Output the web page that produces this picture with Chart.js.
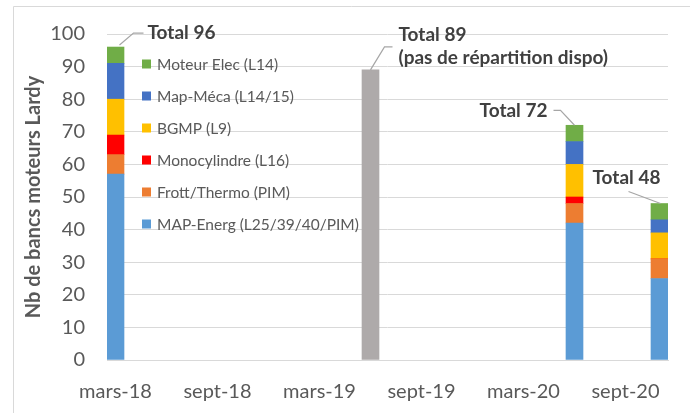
<!DOCTYPE html>
<html lang="fr">
<head>
<meta charset="utf-8">
<title>Nb de bancs moteurs Lardy</title>
<script src="https://cdn.jsdelivr.net/npm/chart.js@4/dist/chart.umd.min.js"></script>
<style>
    html, body { margin: 0; padding: 0; background: #fff; }
    #wrap { width: 690px; height: 413px; }
</style>
</head>
<body>
<div id="wrap"><canvas id="bancs-chart" width="690" height="413"></canvas></div>
<script>
// ── Data ────────────────────────────────────────────────────────
// monthly axis, mars-18 .. nov-20 (one category per month)
const months = [
    'mars-18', 'avr-18', 'mai-18', 'juin-18', 'juil-18', 'août-18',
    'sept-18', 'oct-18', 'nov-18', 'déc-18', 'janv-19', 'févr-19',
    'mars-19', 'avr-19', 'mai-19', 'juin-19', 'juil-19', 'août-19',
    'sept-19', 'oct-19', 'nov-19', 'déc-19', 'janv-20', 'févr-20',
    'mars-20', 'avr-20', 'mai-20', 'juin-20', 'juil-20', 'août-20',
    'sept-20', 'oct-20', 'nov-20',
];
const tickLabels = ['mars-18', 'sept-18', 'mars-19', 'sept-19', 'mars-20', 'sept-20'];

// months that carry a bar
const barMonths = ['mars-18', 'juin-19', 'juin-20', 'nov-20'];
const mapEnerg     = [57, null, 42, 25];
const frottThermo  = [6,  null, 6,  6];
const monocylindre = [6,  null, 2,  0];
const bgmp         = [11, null, 10, 8];
const mapMeca      = [11, null, 7,  4];
const moteurElec   = [5,  null, 5,  5];
const totalSansRep = [null, 89, null, null];  // pas de répartition dispo
const totals       = [96, 89, 72, 48];
const totalTexts   = [
    ['Total 96'],
    ['Total 89', '(pas de répartition dispo)'],
    ['Total 72'],
    ['Total 48'],
];

// ── Helpers ─────────────────────────────────────────────────────
function onAxis(values) {
    return months.map(m => {
        const i = barMonths.indexOf(m);
        return i < 0 ? null : values[i];
    });
}

const FONT = 'Lato, "Noto Sans", sans-serif';
const GREY_TEXT = '#595959';
const GRID = '#D9D9D9';

const series = [
    { label: 'MAP-Energ (L25/39/40/PIM)', values: mapEnerg,     color: '#5B9BD5' },
    { label: 'Frott/Thermo (PIM)',        values: frottThermo,  color: '#ED7D31' },
    { label: 'Monocylindre (L16)',        values: monocylindre, color: '#FF0000' },
    { label: 'BGMP (L9)',                 values: bgmp,         color: '#FFC000' },
    { label: 'Map-Méca (L14/15)',         values: mapMeca,      color: '#4472C4' },
    { label: 'Moteur Elec (L14)',         values: moteurElec,   color: '#70AD47' },
];

const datasets = series.map(s => ({
    label: s.label,
    data: onAxis(s.values),
    backgroundColor: s.color,
    inLegend: true,
}));
datasets.push({
    label: 'Total',
    data: onAxis(totalSansRep),
    backgroundColor: '#AEAAAA',
    inLegend: false,
});

// leader-line / text placement per total label, relative to the bar top
const labelStyle = [
    { line: [[4, -2], [18, -14], [28, -14]], textX: 32, textY: -14, align: 'left' },
    { line: [[0, 0], [14, -23], [22, -23]],  textX: 28, textY: -23, align: 'left' },
    { line: [[-21, -15], [-14, -15], [0, 0]], textX: -27, textY: -14, align: 'right' },
    { line: [[-31, -12], [1, 0]],            textX: -67, textY: -26, align: 'left' },
];

// ── Plugins ─────────────────────────────────────────────────────
const frame = {
    id: 'frame',
    beforeDraw(chart) {
        const c = chart.ctx;
        c.save();
        c.strokeStyle = GRID;
        c.lineWidth = 1;
        c.beginPath();
        c.moveTo(13.5, 413);
        c.lineTo(13.5, 6.5);
        c.lineTo(690, 6.5);
        c.stroke();
        c.restore();
    },
};

const insideLegend = {
    id: 'insideLegend',
    afterDraw(chart) {
        const c = chart.ctx;
        const area = chart.chartArea;
        const items = chart.data.datasets.filter(d => d.inLegend).slice().reverse();
        c.save();
        c.font = '15.5px ' + FONT;
        c.textBaseline = 'middle';
        c.textAlign = 'left';
        items.forEach((d, i) => {
            const y = area.top + 30 + i * 32;
            c.fillStyle = d.backgroundColor;
            c.fillRect(area.left + 35, y - 4.5, 9, 9);
            c.fillStyle = GREY_TEXT;
            c.fillText(d.label, area.left + 50, y + 1);
        });
        c.restore();
    },
};

const totalLabels = {
    id: 'totalLabels',
    afterDraw(chart) {
        const c = chart.ctx;
        const x = chart.scales.x;
        const y = chart.scales.y;
        c.save();
        barMonths.forEach((m, i) => {
            const bx = x.getPixelForValue(months.indexOf(m));
            const by = y.getPixelForValue(totals[i]);
            const st = labelStyle[i];
            c.strokeStyle = '#A6A6A6';
            c.lineWidth = 1.2;
            c.beginPath();
            st.line.forEach(([dx, dy], k) => {
                if (k === 0) c.moveTo(bx + dx, by + dy);
                else c.lineTo(bx + dx, by + dy);
            });
            c.stroke();

            const lines = totalTexts[i];
            const lh = 23;
            c.font = 'bold 19px ' + FONT;
            c.fillStyle = '#404040';
            c.textAlign = st.align;
            c.textBaseline = 'middle';
            const y0 = by + st.textY - (lines.length - 1) * lh / 2;
            lines.forEach((t, k) => c.fillText(t, bx + st.textX, y0 + k * lh));
        });
        c.restore();
    },
};

// ── Chart ───────────────────────────────────────────────────────
new Chart(document.getElementById('bancs-chart'), {
    type: 'bar',
    data: { labels: months, datasets },
    options: {
        responsive: false,
        animation: false,
        layout: { padding: { top: 27, right: 22, bottom: 0, left: 0 } },
        datasets: { bar: { barPercentage: 1.0, categoryPercentage: 1.0 } },
        plugins: {
            legend: { display: false },
            tooltip: { enabled: false },
        },
        scales: {
            x: {
                stacked: true,
                grid: { display: false },
                border: { display: true, color: GRID, width: 1 },
                ticks: {
                    autoSkip: false,
                    maxRotation: 0,
                    minRotation: 0,
                    padding: 12,
                    color: GREY_TEXT,
                    font: { family: FONT, size: 20 },
                    callback: (v, i) => tickLabels.includes(months[i]) ? months[i] : '',
                },
                afterFit: s => { s.height = 53; },
            },
            y: {
                stacked: true,
                min: 0,
                max: 100,
                grid: { color: GRID, drawTicks: false },
                border: { display: false },
                ticks: {
                    stepSize: 10,
                    padding: 22,
                    color: GREY_TEXT,
                    font: { family: FONT, size: 20 },
                },
                title: {
                    display: true,
                    text: 'Nb de bancs moteurs Lardy',
                    color: GREY_TEXT,
                    font: { family: FONT, size: 20, weight: 'bold' },
                    padding: { top: 22, bottom: 0 },
                },
                afterFit: s => { s.width = 107; },
            },
        },
    },
    plugins: [frame, insideLegend, totalLabels],
});
</script>
</body>
</html>
